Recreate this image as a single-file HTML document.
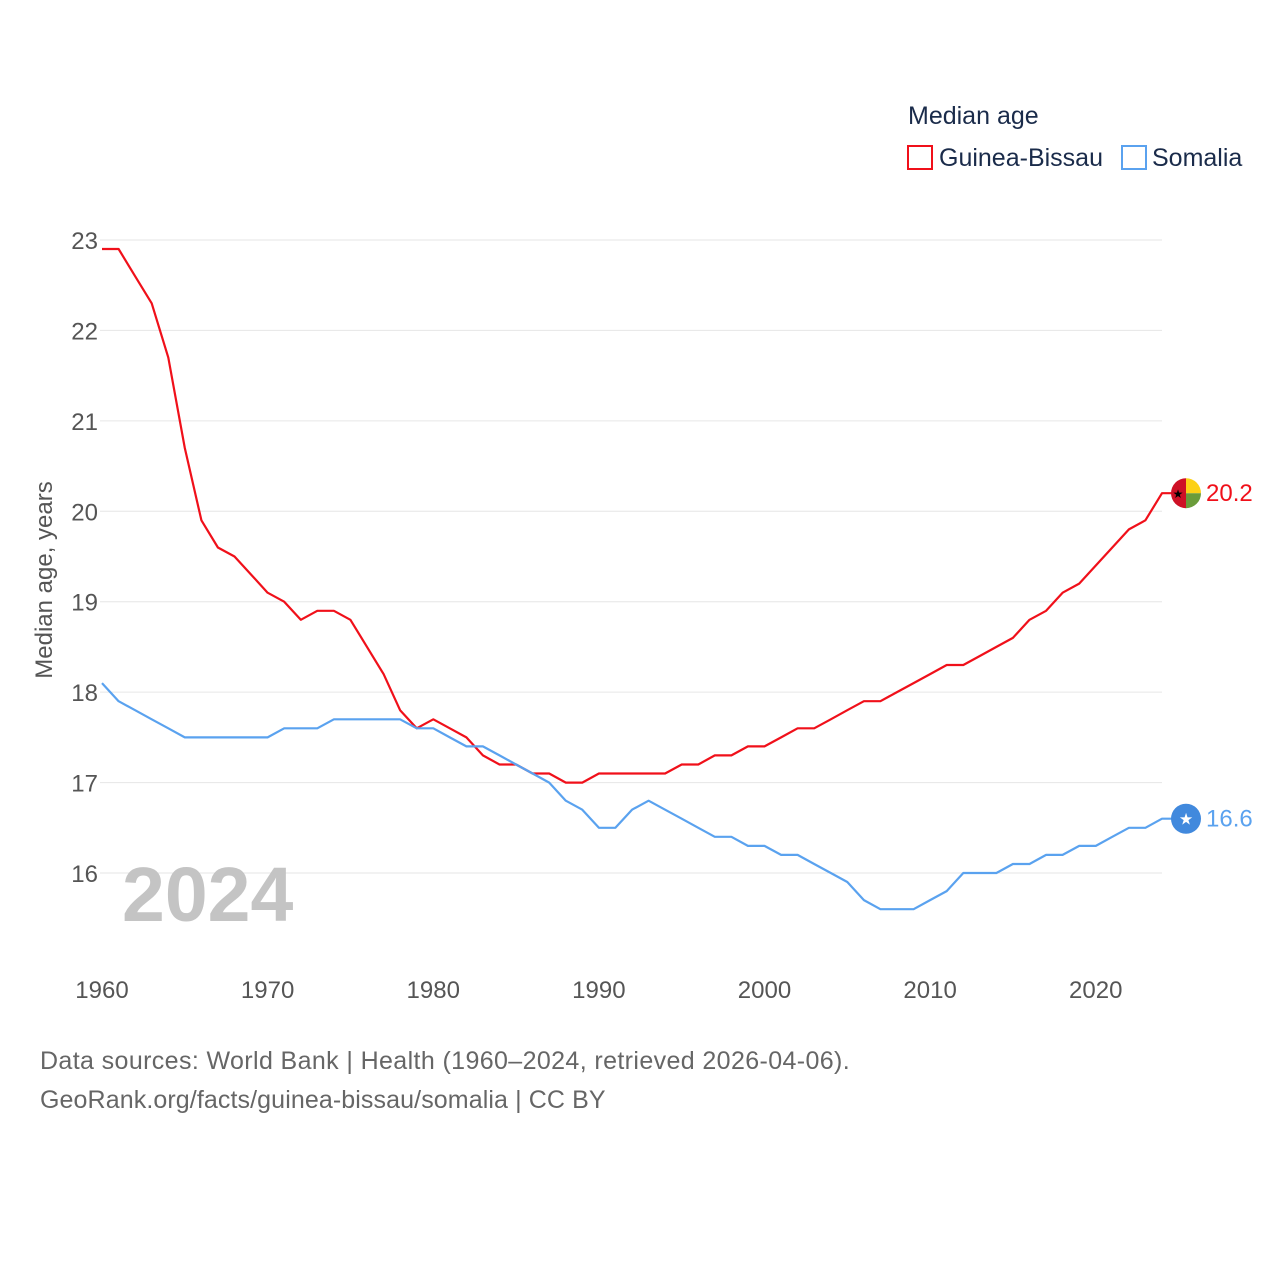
<!DOCTYPE html>
<html><head><meta charset="utf-8">
<style>
body{margin:0;background:#fff;font-family:"Liberation Sans",sans-serif;}
svg text{font-family:"Liberation Sans",sans-serif;}
</style></head>
<body>
<svg id="chart" width="1280" height="1280" viewBox="0 0 1280 1280" xmlns="http://www.w3.org/2000/svg">
  <text x="908" y="124" font-size="25" fill="#1a2b4a">Median age</text>
  <g>
    <rect x="908" y="146" width="24" height="23" fill="none" stroke="#f0101a" stroke-width="2"/>
    <text x="939" y="166" font-size="25" fill="#1a2b4a">Guinea-Bissau</text>
  </g>
  <g>
    <rect x="1122" y="146" width="24" height="23" fill="none" stroke="#5aa2ef" stroke-width="2"/>
    <text x="1152" y="166" font-size="25" fill="#1a2b4a">Somalia</text>
  </g>
  <g id="grid"></g>
  <g id="yticks"></g>
  <g id="xticks"></g>
  <text x="0" y="0" transform="translate(52,580) rotate(-90)" text-anchor="middle" font-size="24" fill="#555">Median age, years</text>
  <text x="122" y="921" font-size="77" font-weight="bold" fill="#c4c4c4">2024</text>
  <g id="series"></g>
  <text x="40" y="1069" font-size="25" fill="#666" letter-spacing="0.38">Data sources: World Bank | Health (1960–2024, retrieved 2026-04-06).</text>
  <text x="40" y="1108" font-size="25" fill="#666" letter-spacing="0.1">GeoRank.org/facts/guinea-bissau/somalia | CC BY</text>
</svg>
<script>
const years = [];
for (let y = 1960; y <= 2024; y++) years.push(y);
const guineaBissau = [22.9,22.9,22.6,22.3,21.7,20.7,19.9,19.6,19.5,19.3,19.1,19.0,18.8,18.9,18.9,18.8,18.5,18.2,17.8,17.6,17.7,17.6,17.5,17.3,17.2,17.2,17.1,17.1,17.0,17.0,17.1,17.1,17.1,17.1,17.1,17.2,17.2,17.3,17.3,17.4,17.4,17.5,17.6,17.6,17.7,17.8,17.9,17.9,18.0,18.1,18.2,18.3,18.3,18.4,18.5,18.6,18.8,18.9,19.1,19.2,19.4,19.6,19.8,19.9,20.2];
const somalia = [18.1,17.9,17.8,17.7,17.6,17.5,17.5,17.5,17.5,17.5,17.5,17.6,17.6,17.6,17.7,17.7,17.7,17.7,17.7,17.6,17.6,17.5,17.4,17.4,17.3,17.2,17.1,17.0,16.8,16.7,16.5,16.5,16.7,16.8,16.7,16.6,16.5,16.4,16.4,16.3,16.3,16.2,16.2,16.1,16.0,15.9,15.7,15.6,15.6,15.6,15.7,15.8,16.0,16.0,16.0,16.1,16.1,16.2,16.2,16.3,16.3,16.4,16.5,16.5,16.6];
const yTicks = [16,17,18,19,20,21,22,23];
const xTicks = [1960,1970,1980,1990,2000,2010,2020];

const NS = "http://www.w3.org/2000/svg";
const xS = v => 102 + (v - 1960) * (1162 - 102) / 64;
const yS = v => 873 - (v - 16) * (873 - 240) / 7;
function mk(tag, attrs, parent, txt) {
  const e = document.createElementNS(NS, tag);
  for (const k in attrs) e.setAttribute(k, attrs[k]);
  if (txt !== undefined) e.textContent = txt;
  parent.appendChild(e);
  return e;
}
const grid = document.getElementById('grid'), yt = document.getElementById('yticks'), xt = document.getElementById('xticks'), ser = document.getElementById('series');
yTicks.forEach(t => {
  const l = mk('line', {x1: 100, x2: 1162, y1: yS(t), y2: yS(t), stroke: '#e6e6e6', 'stroke-width': 1}, grid);
  
  
  const tx = mk('text', {x: 98, y: yS(t) + 9, 'text-anchor': 'end', 'font-size': 24, fill: '#555'}, yt, t);
  
  
});
xTicks.forEach(t => {
  const tx = mk('text', {x: xS(t), y: 998, 'text-anchor': 'middle', 'font-size': 24, fill: '#555'}, xt, t);
  
  
});
function drawSeries(vals, color, name) {
  const d = vals.map((v, i) => (i ? 'L' : 'M') + xS(years[i]).toFixed(1) + ',' + yS(v).toFixed(1)).join(' ');
  const last = vals[vals.length - 1];
  const p = mk('path', {d: d + ' L' + (xS(2024) + 22) + ',' + yS(last).toFixed(1), fill: 'none', stroke: color, 'stroke-width': 2.2, 'stroke-linejoin': 'round'}, ser);
  
  
  return last;
}
const gbLast = drawSeries(guineaBissau, '#f0101a', 'guinea-bissau');
const soLast = drawSeries(somalia, '#5aa2ef', 'somalia');
const gy = yS(gbLast), cx = 1186;
const gf = mk('g', {}, ser);


mk('path', {d: `M${cx},${gy} L${cx},${gy-15} A15,15 0 0 0 ${cx},${gy+15} Z`, fill: '#ce1126'}, gf);
mk('path', {d: `M${cx},${gy} L${cx},${gy-15} A15,15 0 0 1 ${cx+15},${gy} Z`, fill: '#fcd116'}, gf);
mk('path', {d: `M${cx},${gy} L${cx+15},${gy} A15,15 0 0 1 ${cx},${gy+15} Z`, fill: '#6a9c3a'}, gf);
mk('text', {x: cx - 8, y: gy + 5, 'font-size': 12, fill: '#000', 'text-anchor': 'middle'}, gf, '★');
const gl = mk('text', {x: 1206, y: gy + 8, 'font-size': 24, fill: '#f0101a'}, ser, gbLast.toFixed(1));


const sy = yS(soLast);
const sf = mk('g', {}, ser);


mk('circle', {cx: cx, cy: sy, r: 15, fill: '#4189dd'}, sf);
mk('text', {x: cx, y: sy + 6, 'font-size': 16, fill: '#fff', 'text-anchor': 'middle'}, sf, '★');
const sl = mk('text', {x: 1206, y: sy + 8, 'font-size': 24, fill: '#5aa2ef'}, ser, soLast.toFixed(1));


</script>
</body></html>
